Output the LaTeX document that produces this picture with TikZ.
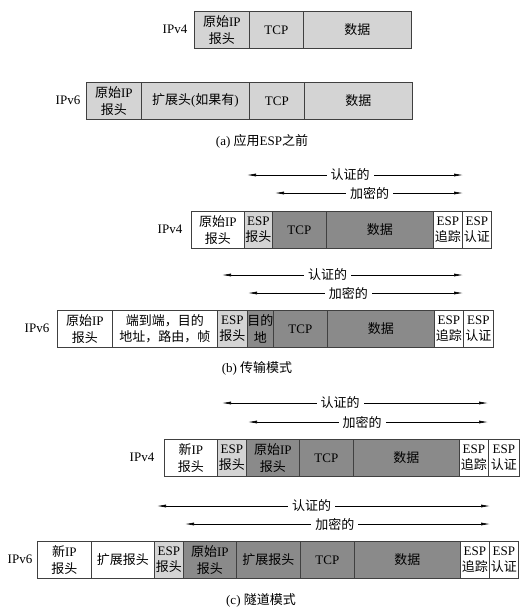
\documentclass[tikz,border=0pt]{standalone}
\usepackage{fontspec}
\setmainfont{Liberation Serif}
\newfontfamily\cjk{Noto Sans CJK SC}
\usetikzlibrary{arrows.meta}
\newcommand\zh[1]{{\cjk #1}}
\definecolor{lt}{RGB}{212,212,212}
\definecolor{dk}{RGB}{138,138,138}
\tikzset{
  fldbox/.style={draw=black!75, line width=0.7pt, inner sep=0pt, align=center,
    anchor=north west, minimum height=37pt, font=\fontsize{13}{16.5}\selectfont},
  wh/.style={fill=white}, light/.style={fill=lt}, dark/.style={fill=dk},
  rowlbl/.style={font=\fontsize{13}{14}\selectfont, inner sep=0pt},
  captxt/.style={font=\fontsize{13}{14}\selectfont, inner sep=0pt},
  span/.style={{Latex[length=9pt,width=3pt]}-{Latex[length=9pt,width=3pt]}, line width=0.6pt},
  spanlbl/.style={fill=white, inner sep=4pt, font=\fontsize{13}{14}\selectfont}
}
\newcommand\fld[6]{\node[fldbox,#1,minimum width={#4pt-#3pt}] (#2) at (#3,#5) {#6};}
\begin{document}
\begin{tikzpicture}[x=1pt,y=-1pt]
\useasboundingbox (0,0) rectangle (531,611);
% (a) IPv4
\fld{light}{a1ip}{194}{249}{11}{\zh{原始}IP\\\zh{报头}}
\fld{light}{a1tcp}{249}{303}{11}{TCP}
\fld{light}{a1data}{303}{411}{11}{\zh{数据}}
\node[rowlbl] (a1lbl) at (175,29.5) {IPv4};
% (a) IPv6
\fld{light}{a2ip}{86}{141}{82}{\zh{原始}IP\\\zh{报头}}
\fld{light}{a2ext}{141}{249}{82}{\zh{扩展头}(\zh{如果有})}
\fld{light}{a2tcp}{249}{304}{82}{TCP}
\fld{light}{a2data}{304}{412}{82}{\zh{数据}}
\node[rowlbl] (a2lbl) at (68,100.5) {IPv6};
\node[captxt] (capa) at (262,141) {(a) \zh{应用}ESP\zh{之前}};
% (b) IPv4
\coordinate (b1as) at (247,175); \coordinate (b1ae) at (463,175);
\coordinate (b1es) at (275,193); \coordinate (b1ee) at (463,193);
\draw[span] (b1as) -- (b1ae) node[spanlbl,pos=0.477] (b1al) {\zh{认证的}};
\draw[span] (b1es) -- (b1ee) node[spanlbl,pos=0.503] (b1el) {\zh{加密的}};
\fld{wh}{b1ip}{191}{244}{211}{\zh{原始}IP\\\zh{报头}}
\fld{light}{b1esp}{244}{272}{211}{ESP\\\zh{报头}}
\fld{dark}{b1tcp}{272}{326}{211}{TCP}
\fld{dark}{b1data}{326}{433}{211}{\zh{数据}}
\fld{wh}{b1trl}{433}{462}{211}{ESP\\\zh{追踪}}
\fld{wh}{b1auth}{462}{491}{211}{ESP\\\zh{认证}}
\node[rowlbl] (b1lbl) at (170,229.5) {IPv4};
% (b) IPv6
\coordinate (b2as) at (222,275); \coordinate (b2ae) at (463,275);
\coordinate (b2es) at (248,293); \coordinate (b2ee) at (463,293);
\draw[span] (b2as) -- (b2ae) node[spanlbl,pos=0.438] (b2al) {\zh{认证的}};
\draw[span] (b2es) -- (b2ee) node[spanlbl,pos=0.467] (b2el) {\zh{加密的}};
\fld{wh}{b2ip}{57}{112}{310}{\zh{原始}IP\\\zh{报头}}
\fld{wh}{b2ext}{112}{217}{310}{\zh{端到端，目的}\\\zh{地址，路由，帧}}
\fld{light}{b2esp}{217}{247}{310}{ESP\\\zh{报头}}
\fld{dark}{b2dst}{247}{273}{310}{\zh{目的}\\\zh{地}}
\fld{dark}{b2tcp}{273}{327}{310}{TCP}
\fld{dark}{b2data}{327}{434}{310}{\zh{数据}}
\fld{wh}{b2trl}{434}{463}{310}{ESP\\\zh{追踪}}
\fld{wh}{b2auth}{463}{493}{310}{ESP\\\zh{认证}}
\node[rowlbl] (b2lbl) at (37,328.5) {IPv6};
\node[captxt] (capb) at (257,368) {(b) \zh{传输模式}};
% (c) IPv4
\coordinate (c1as) at (222,403); \coordinate (c1ae) at (488,403);
\coordinate (c1es) at (248,422); \coordinate (c1ee) at (488,422);
\draw[span] (c1as) -- (c1ae) node[spanlbl,pos=0.444] (c1al) {\zh{认证的}};
\draw[span] (c1es) -- (c1ee) node[spanlbl,pos=0.475] (c1el) {\zh{加密的}};
\fld{wh}{c1new}{164}{217}{439}{\zh{新}IP\\\zh{报头}}
\fld{light}{c1esp}{217}{246}{439}{ESP\\\zh{报头}}
\fld{dark}{c1ip}{246}{299}{439}{\zh{原始}IP\\\zh{报头}}
\fld{dark}{c1tcp}{299}{353}{439}{TCP}
\fld{dark}{c1data}{353}{459}{439}{\zh{数据}}
\fld{wh}{c1trl}{459}{488}{439}{ESP\\\zh{追踪}}
\fld{wh}{c1auth}{488}{519}{439}{ESP\\\zh{认证}}
\node[rowlbl] (c1lbl) at (142,457.5) {IPv4};
% (c) IPv6
\coordinate (c2as) at (157,506); \coordinate (c2ae) at (490,506);
\coordinate (c2es) at (185,524); \coordinate (c2ee) at (490,524);
\draw[span] (c2as) -- (c2ae) node[spanlbl,pos=0.464] (c2al) {\zh{认证的}};
\draw[span] (c2es) -- (c2ee) node[spanlbl,pos=0.491] (c2el) {\zh{加密的}};
\fld{wh}{c2new}{37}{91}{541}{\zh{新}IP\\\zh{报头}}
\fld{wh}{c2ext}{91}{154}{541}{\zh{扩展报头}}
\fld{light}{c2esp}{154}{183}{541}{ESP\\\zh{报头}}
\fld{dark}{c2ip}{183}{236}{541}{\zh{原始}IP\\\zh{报头}}
\fld{dark}{c2ext2}{236}{300}{541}{\zh{扩展报头}}
\fld{dark}{c2tcp}{300}{354}{541}{TCP}
\fld{dark}{c2data}{354}{460}{541}{\zh{数据}}
\fld{wh}{c2trl}{460}{489}{541}{ESP\\\zh{追踪}}
\fld{wh}{c2auth}{489}{518}{541}{ESP\\\zh{认证}}
\node[rowlbl] (c2lbl) at (20,559.5) {IPv6};
\node[captxt] (capc) at (261,600) {(c) \zh{隧道模式}};
\end{tikzpicture}
\end{document}
